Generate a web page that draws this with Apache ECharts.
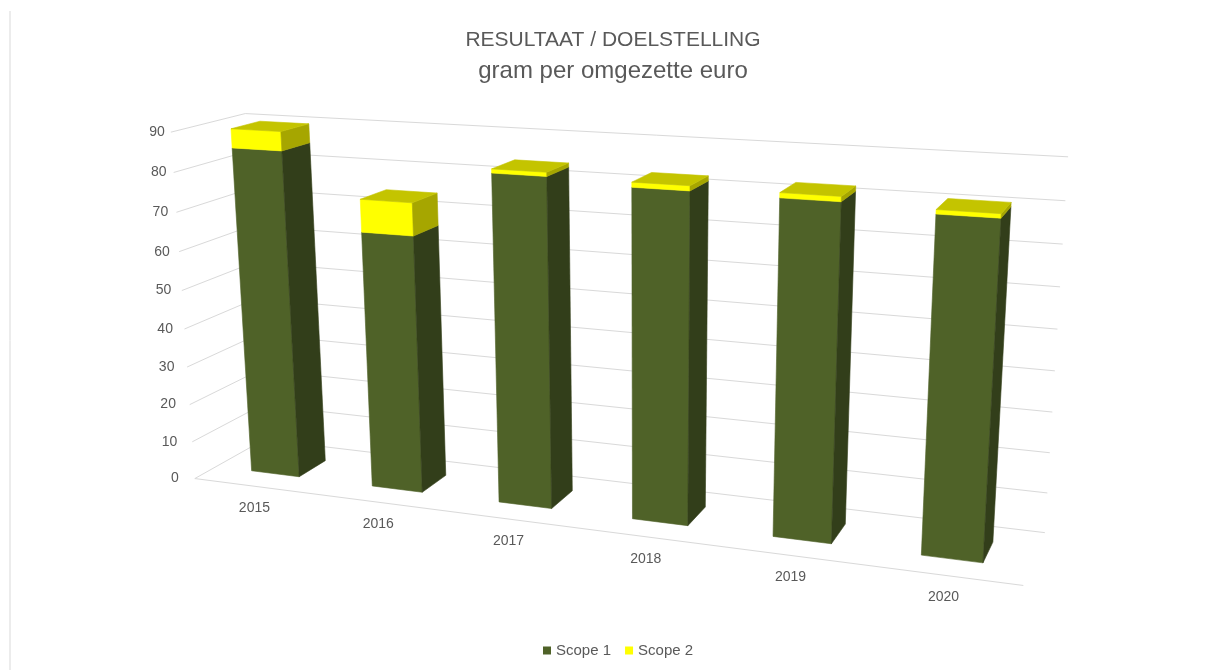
<!DOCTYPE html>
<html>
<head>
<meta charset="utf-8">
<script src="https://cdn.jsdelivr.net/npm/echarts@6/dist/echarts.min.js"></script>
<style>
  html, body { margin: 0; padding: 0; background: #fff; }
  #chart { width: 1205px; height: 670px; }
</style>
</head>
<body>
<div id="chart"></div>
<script>
// chart data
const years = ['2015', '2016', '2017', '2018', '2019', '2020'];
const scope1 = [85.1, 66.1, 82.8, 81.5, 81.2, 79.8];
const scope2 = [4.8, 8.2, 1, 1.2, 1.2, 1];
const yTicks = [0, 10, 20, 30, 40, 50, 60, 70, 80, 90];

// 3d frame: corners of the walls (x 0..1, value 0..1, depth 0 front..1 back) -> screen
const calib = [
  [0, 0, 0, 195.5, 478.8], [0, 1 / 9, 0, 191.7, 441.7], [0, 8 / 9, 0, 173, 171.7], [0, 1, 0, 171.7, 132.3],
  [0, 1, 1, 245, 114], [1, 0, 0, 1023, 586],
  [1, 0, 1, 1045, 532.5], [1, 1 / 9, 1, 1048, 492.7], [1, 2 / 9, 1, 1050, 452.7], [1, 3 / 9, 1, 1052, 412],
  [1, 4 / 9, 1, 1054, 370.7], [1, 5 / 9, 1, 1057, 329], [1, 6 / 9, 1, 1060, 286.7], [1, 7 / 9, 1, 1063, 244],
  [1, 8 / 9, 1, 1066, 201], [1, 1, 1, 1068, 157]
];
const BAR_W = 0.4;     // share of the category band
const BAR_Z = [0.3, 0.7];
const textColor = '#595959';
const font = 'Liberation Sans';

// least squares camera matrix (DLT)
function solveCamera(pts) {
  const n = 11;
  const M = Array.from({ length: n }, () => new Array(n + 1).fill(0));
  const addRow = (row, b) => {
    for (let i = 0; i < n; i++) {
      for (let j = 0; j < n; j++) M[i][j] += row[i] * row[j];
      M[i][n] += row[i] * b;
    }
  };
  pts.forEach(([X, Y, Z, u, v]) => {
    u /= 1000; v /= 1000;
    addRow([X, Y, Z, 1, 0, 0, 0, 0, -u * X, -u * Y, -u * Z], u);
    addRow([0, 0, 0, 0, X, Y, Z, 1, -v * X, -v * Y, -v * Z], v);
  });
  for (let c = 0; c < n; c++) {
    let piv = c;
    for (let r = c + 1; r < n; r++) if (Math.abs(M[r][c]) > Math.abs(M[piv][c])) piv = r;
    [M[c], M[piv]] = [M[piv], M[c]];
    for (let r = 0; r < n; r++) {
      if (r === c) continue;
      const f = M[r][c] / M[c][c];
      for (let k = c; k <= n; k++) M[r][k] -= f * M[c][k];
    }
  }
  return M.map((row, i) => row[n] / row[i]);
}
const P = solveCamera(calib);
function proj(X, Y, Z) {
  const w = P[8] * X + P[9] * Y + P[10] * Z + 1;
  return [
    (P[0] * X + P[1] * Y + P[2] * Z + P[3]) / w * 1000,
    (P[4] * X + P[5] * Y + P[6] * Z + P[7]) / w * 1000
  ];
}

// value -> 0..1 height through the hidden y axis
function normY(params, api, v) {
  const r = params.coordSys;
  return (r.y + r.height - api.coord([0, v])[1]) / r.height;
}
function normX(params, api, i) {
  const r = params.coordSys;
  return (api.coord([i, 0])[0] - r.x) / r.width;
}

function gridItem(params, api) {
  const v = api.value(1);
  const Y = normY(params, api, v);
  const children = [{
    type: 'polyline',
    shape: { points: [proj(0, Y, 0), proj(0, Y, 1), proj(1, Y, 1)] },
    style: { stroke: '#d9d9d9', lineWidth: 1, fill: null }
  }];
  if (v === 0) {
    children.push({
      type: 'line',
      shape: { x1: proj(0, 0, 0)[0], y1: proj(0, 0, 0)[1], x2: proj(1, 0, 0)[0], y2: proj(1, 0, 0)[1] },
      style: { stroke: '#d9d9d9', lineWidth: 1 }
    });
  }
  const p = proj(0, Y, 0);
  children.push({
    type: 'text',
    style: {
      text: String(v), x: p[0] - 6 - 10 * (1 - Y), y: p[1],
      align: 'right', verticalAlign: 'middle',
      fill: textColor, fontSize: 14, fontFamily: font
    }
  });
  return { type: 'group', children: children };
}

function catItem(params, api) {
  const i = api.value(0);
  const p = proj(normX(params, api, i), 0, 0);
  return {
    type: 'text',
    style: {
      text: years[i], x: p[0], y: p[1] + 22,
      align: 'center', verticalAlign: 'middle',
      fill: textColor, fontSize: 14, fontFamily: font
    }
  };
}

function barMaker(colors, withTop) {
  return function (params, api) {
    const i = api.value(0);
    const y0 = normY(params, api, api.value(1));
    const y1 = normY(params, api, api.value(2));
    const xc = normX(params, api, i);
    const half = api.size([1, 0])[0] * BAR_W / 2 / params.coordSys.width;
    const x0 = xc - half, x1 = xc + half;
    const zf = BAR_Z[0], zb = BAR_Z[1];
    const face = (pts, c) => ({
      type: 'polygon',
      shape: { points: pts.map(q => proj(q[0], q[1], q[2])) },
      style: { fill: c, stroke: c, lineWidth: 0.6 }
    });
    const children = [
      face([[x0, y0, zf], [x1, y0, zf], [x1, y1, zf], [x0, y1, zf]], colors[0]),
      face([[x1, y0, zf], [x1, y0, zb], [x1, y1, zb], [x1, y1, zf]], colors[1])
    ];
    if (withTop) {
      children.push(face([[x0, y1, zf], [x1, y1, zf], [x1, y1, zb], [x0, y1, zb]], colors[2]));
    }
    return { type: 'group', children: children };
  };
}

const chart = echarts.init(document.getElementById('chart'), null, { renderer: 'canvas' });
chart.setOption({
  animation: false,
  backgroundColor: '#fff',
  title: [
    { text: 'RESULTAAT / DOELSTELLING', left: 613, top: 30, textAlign: 'center', padding: 0,
      textStyle: { color: textColor, fontSize: 21, fontWeight: 'normal', fontFamily: font } },
    { text: 'gram per omgezette euro', left: 613, top: 59, textAlign: 'center', padding: 0,
      textStyle: { color: textColor, fontSize: 24, fontWeight: 'normal', fontFamily: font } }
  ],
  legend: {
    data: ['Scope 1', 'Scope 2'],
    bottom: 7, left: 538,
    icon: 'rect', itemWidth: 8, itemHeight: 8, itemGap: 14,
    textStyle: { color: textColor, fontSize: 15, fontFamily: font }
  },
  grid: { left: 0, right: 0, top: 0, bottom: 0 },
  xAxis: { type: 'category', data: years, show: false },
  yAxis: { type: 'value', min: 0, max: 90, interval: 10, show: false },
  graphic: [{
    type: 'line', shape: { x1: 10, y1: 11, x2: 10, y2: 670 },
    style: { stroke: '#d9d9d9', lineWidth: 1 }
  }],
  series: [
    {
      name: 'grid', type: 'custom', silent: true, z: 1,
      data: yTicks.map(v => [0, v]),
      renderItem: gridItem
    },
    {
      name: 'cats', type: 'custom', silent: true, z: 1,
      data: years.map((y, i) => [i, 0]),
      renderItem: catItem
    },
    {
      name: 'Scope 1', type: 'custom', z: 2,
      itemStyle: { color: '#4f6228' },
      data: scope1.map((v, i) => [i, 0, v]),
      renderItem: barMaker(['#4f6228', '#323e1a', '#5e742f'], false)
    },
    {
      name: 'Scope 2', type: 'custom', z: 3,
      itemStyle: { color: '#ffff00' },
      data: scope2.map((v, i) => [i, scope1[i], scope1[i] + v]),
      renderItem: barMaker(['#ffff00', '#a6a600', '#c4c400'], true)
    }
  ]
});
</script>
</body>
</html>
